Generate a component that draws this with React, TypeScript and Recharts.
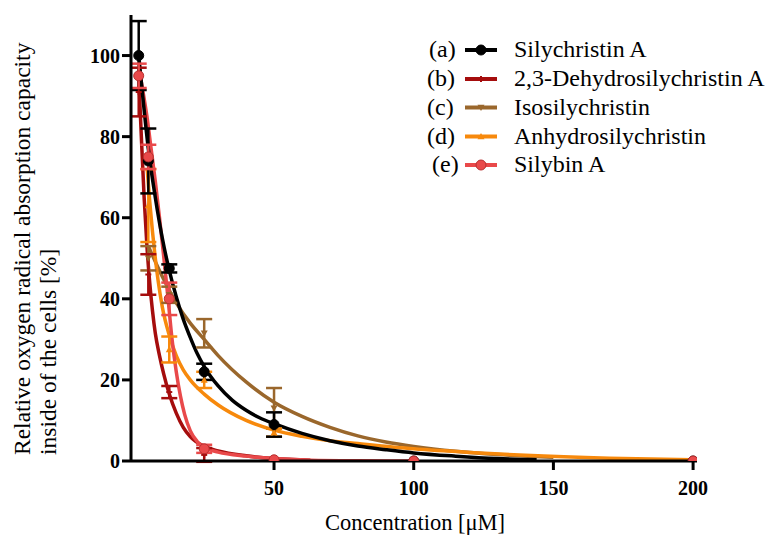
import React from "react";
import { ComposedChart, Line, Scatter, ErrorBar, XAxis, YAxis, Legend } from "recharts";

const FONT = "Liberation Serif, DejaVu Serif";

// concentrations used in the assay [µM]
const conc = [1.56, 5, 12.5, 25, 50, 100, 200];

// measured means / errors (null = not shown)
const silychristinMean = [100, 74, 47.5, 22, 9, 0, 0];
const silychristinErr = [8.5, 8, 1, 2, 3, 0, 0];
const dehydroMean = [91, 46, 17, 1.5, 0.3, 0, 0];
const dehydroErr = [6, 5, 1.5, 1.7, 0, 0, 0];
const isoMean = [null, 50, 41, 31.5, 13, 0, 0];
const isoErr = [0, 3, 2, 3.5, 5, 0, 0];
const anhydroMean = [null, 63, 27.5, 20, 7, 0, 0];
const anhydroErr = [0, 9, 3.2, 2, 1, 0, 0];
const silybinMean = [95, 75, 40, 3, 0.3, 0, 0];
const silybinErr = [3, 3, 4, 1, 0, 0, 0];

// fitted curves
const silychristinFitX = [1.56, 3, 5, 7.5, 10, 12.5, 15, 17.5, 20, 22.5, 25, 30, 35, 40, 45, 50, 60, 70, 80, 90, 100, 115, 130, 144];
const silychristinFitY = [100, 90, 77, 65, 55, 47, 40.5, 35, 30.5, 26.5, 23.3, 18.5, 15, 12.5, 10.6, 9.2, 6.8, 5, 3.7, 2.8, 2, 1.2, 0.6, 0.3];
const dehydroFitX = [1.56, 2.5, 3.5, 4.5, 5.5, 6.5, 7.5, 9, 10.5, 12.5, 15, 17.5, 20, 25, 30, 40, 50, 63];
const dehydroFitY = [95, 80, 65, 53, 44, 37, 31.5, 26, 21.5, 16.5, 11.8, 8.3, 6, 3.6, 2.5, 1.3, 0.6, 0.2];
const isoFitX = [5, 10, 15, 20, 25, 30, 40, 50, 60, 70, 80, 90, 100, 115, 130, 150];
const isoFitY = [53, 45.5, 39, 34, 30, 26, 19.5, 14.5, 11, 8.3, 6.2, 4.7, 3.6, 2.4, 1.6, 0.9];
const anhydroFitX = [4.6, 5.5, 6.5, 7.5, 8.5, 10, 12.5, 15, 17.5, 20, 25, 30, 40, 50, 60, 70, 80, 100, 120, 140, 170, 200];
const anhydroFitY = [72, 64, 56.5, 50, 44.5, 38, 31, 26, 22.5, 20, 16.5, 13.8, 10, 7.6, 6.1, 5, 4.3, 3, 2.1, 1.4, 0.7, 0.3];
const silybinFitX = [1.56, 3, 4.5, 6, 7.5, 9, 10.5, 12, 13.5, 15, 16.5, 18, 20, 22.5, 25, 30, 40, 50, 63, 80, 100];
const silybinFitY = [97, 91.5, 85, 77, 69, 60, 50.5, 40.5, 30, 22, 16, 11.5, 7.5, 4.8, 3.3, 2.2, 1.2, 0.6, 0.2, 0.05, 0];

const xTicks = [50, 100, 150, 200];
const yTicks = [0, 20, 40, 60, 80, 100];

const BLACK = "#000000";
const DARKRED = "#a50d0d";
const BROWN = "#9a672c";
const ORANGE = "#f7890c";
const LIGHTRED = "#e9494a";

const points = (means: (number | null)[], errs: number[]) =>
  conc
    .map((x, i) => ({ x, y: means[i], e: errs[i] }))
    .filter((p) => p.y !== null);

const curve = (xs: number[], ys: number[]) => xs.map((x, i) => ({ x, y: ys[i] }));

type Kind = "circle" | "plus" | "down" | "up";

function drawMarker(kind: Kind, color: string, cx: number, cy: number, key?: string) {
  if (kind === "circle") {
    return <circle key={key} cx={cx} cy={cy} r={5} fill={color} stroke={color === LIGHTRED ? "#b83030" : color} strokeWidth={1} />;
  }
  if (kind === "plus") {
    return (
      <g key={key}>
        <line x1={cx - 3} x2={cx + 3} y1={cy} y2={cy} stroke={color} strokeWidth={2} />
        <line x1={cx} x2={cx} y1={cy - 3} y2={cy + 3} stroke={color} strokeWidth={2} />
      </g>
    );
  }
  const s = 3.5;
  const d =
    kind === "up"
      ? `M${cx},${cy - s} L${cx + s},${cy + s * 0.8} L${cx - s},${cy + s * 0.8} Z`
      : `M${cx},${cy + s} L${cx + s},${cy - s * 0.8} L${cx - s},${cy - s * 0.8} Z`;
  return <path key={key} d={d} fill={color} />;
}

const series = [
  { tag: "(a)", name: "Silychristin A", color: BLACK, kind: "circle" as Kind, pts: points(silychristinMean, silychristinErr), fit: curve(silychristinFitX, silychristinFitY) },
  { tag: "(b)", name: "2,3-Dehydrosilychristin A", color: DARKRED, kind: "plus" as Kind, pts: points(dehydroMean, dehydroErr), fit: curve(dehydroFitX, dehydroFitY) },
  { tag: "(c)", name: "Isosilychristin", color: BROWN, kind: "down" as Kind, pts: points(isoMean, isoErr), fit: curve(isoFitX, isoFitY) },
  { tag: "(d)", name: "Anhydrosilychristin", color: ORANGE, kind: "up" as Kind, pts: points(anhydroMean, anhydroErr), fit: curve(anhydroFitX, anhydroFitY) },
  { tag: "(e)", name: "Silybin A", color: LIGHTRED, kind: "circle" as Kind, pts: points(silybinMean, silybinErr), fit: curve(silybinFitX, silybinFitY) },
];

const lineOrder = [2, 3, 1, 4, 0];
const dotOrder = [2, 3, 1, 0, 4];

const legendRowY = [50, 79, 107.5, 136.5, 165];
const legendTagX = [429, 427, 427, 427, 432];

function LegendBox() {
  return (
    <svg width={770} height={200} style={{ display: "block" }}>
      {series.map((s, i) => {
        const y = legendRowY[i];
        return (
          <g key={s.name}>
            <text x={legendTagX[i]} y={y + 7} fontFamily={FONT} fontSize={24}>
              {s.tag}
            </text>
            <line x1={465} x2={497} y1={y} y2={y} stroke={s.color} strokeWidth={4} />
            {drawMarker(s.kind, s.color, 481, y)}
            <text x={514} y={y + 7} fontFamily={FONT} fontSize={24}>
              {s.name}
            </text>
          </g>
        );
      })}
    </svg>
  );
}

function YTitle() {
  return (
    <g>
      <text transform="translate(30,455) rotate(-90)" fontFamily={FONT} fontSize={23.5} fill="#000">
        Relative oxygen radical absorption capacity
      </text>
      <text transform="translate(56,455) rotate(-90)" fontFamily={FONT} fontSize={23.5} fill="#000">
        inside of the cells [%]
      </text>
    </g>
  );
}

function XTitle() {
  return (
    <text x={415} y={530} textAnchor="middle" fontFamily={FONT} fontSize={22.5} fill="#000">
      Concentration [μM]
    </text>
  );
}

export default function App() {
  return (
    <div style={{ position: "absolute", left: 0, top: 0, width: 770, height: 547, background: "#fff" }}>
      <ComposedChart width={770} height={547} margin={{ top: 15, right: 73, left: 0, bottom: 0 }}>
        <XAxis
          type="number"
          dataKey="x"
          domain={[-1.2, 201.4]}
          ticks={xTicks}
          allowDataOverflow
          height={86}
          tickSize={9}
          tickMargin={11}
          axisLine={{ stroke: "#000", strokeWidth: 3 }}
          tickLine={{ stroke: "#000", strokeWidth: 3 }}
          tick={{ fill: "#000", fontFamily: FONT, fontSize: 20, fontWeight: "bold" }}
          label={<XTitle />}
        />
        <YAxis
          type="number"
          dataKey="y"
          domain={[0, 110]}
          ticks={yTicks}
          allowDataOverflow
          width={131}
          tickSize={9}
          tickMargin={2}
          axisLine={{ stroke: "#000", strokeWidth: 3 }}
          tickLine={{ stroke: "#000", strokeWidth: 3 }}
          tick={{ fill: "#000", fontFamily: FONT, fontSize: 20, fontWeight: "bold" }}
          label={<YTitle />}
        />
        {lineOrder.map((i) => {
          const s = series[i];
          return (
            <Line
              key={"fit-" + s.name}
              data={s.fit}
              dataKey="y"
              type="monotone"
              stroke={s.color}
              strokeWidth={3.5}
              dot={false}
              activeDot={false}
              isAnimationActive={false}
              legendType="none"
            />
          );
        })}
        {dotOrder.map((i) => {
          const s = series[i];
          return (
            <Scatter
              key={"pts-" + s.name}
              data={s.pts}
              dataKey="y"
              fill={s.color}
              isAnimationActive={false}
              legendType="none"
              shape={(p: any) => drawMarker(s.kind, s.color, p.cx, p.cy)}
            >
              <ErrorBar dataKey="e" direction="y" width={8} stroke={s.color} strokeWidth={2.5} />
            </Scatter>
          );
        })}
        <Legend
          layout="vertical"
          align="center"
          verticalAlign="middle"
          wrapperStyle={{ position: "absolute", left: 0, top: 0, width: 770, height: 200 }}
          content={() => <LegendBox />}
        />
      </ComposedChart>
    </div>
  );
}
